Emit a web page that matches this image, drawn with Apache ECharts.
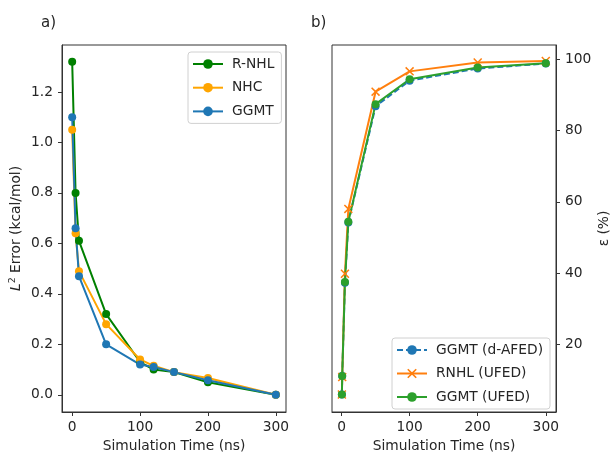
<!DOCTYPE html>
<html>
<head>
<meta charset="utf-8">
<script src="https://cdn.jsdelivr.net/npm/echarts@6/dist/echarts.min.js"></script>
<style>
  html, body { margin: 0; padding: 0; background: #fff; }
  #chart { width: 612px; height: 453px; }
</style>
</head>
<body>
<div id="chart"></div>
<script>
// Panel a): L2 error against simulation time
const timesA = [0, 5, 10, 50, 100, 120, 150, 200, 300];
const errRNHL = [1.32, 0.80, 0.61, 0.32, 0.13, 0.10, 0.09, 0.05, 0.0];
const errNHC  = [1.05, 0.64, 0.49, 0.28, 0.14, 0.115, 0.09, 0.067, 0.0];
const errGGMT = [1.10, 0.66, 0.47, 0.20, 0.12, 0.11, 0.09, 0.058, 0.0];
const ticksAx = [0, 100, 200, 300];
const ticksAy = [0.0, 0.2, 0.4, 0.6, 0.8, 1.0, 1.2];

// Panel b): epsilon (%) against simulation time
const timesB = [0.5, 1, 5, 10, 50, 100, 200, 300];
const epsGGMTdAFED = [5.9, 11.1, 37.3, 54.2, 86.8, 94.0, 97.4, 98.8];
const epsRNHLUFED  = [5.9, 10.8, 39.8, 58.0, 90.9, 96.6, 99.1, 99.5];
const epsGGMTUFED  = [5.9, 11.1, 37.5, 54.4, 87.4, 94.4, 97.7, 98.9];
const ticksBx = [0, 100, 200, 300];
const ticksBy = [20, 40, 60, 80, 100];

const FONT = 'DejaVu Sans';
const FS = 13.8;
const TXT = '#262626';
const pairs = (xs, ys) => xs.map((x, i) => [x, ys[i]]);
const CROSS = 'path://M0,1.2L1.2,0L5,3.8L8.8,0L10,1.2L6.2,5L10,8.8L8.8,10L5,6.2L1.2,10L0,8.8L3.8,5Z';

function xAxisCfg(gridIndex, ticks, min, max) {
  return {
    type: 'value', gridIndex, min, max,
    name: 'Simulation Time (ns)', nameLocation: 'middle', nameGap: 27,
    nameTextStyle: { fontFamily: FONT, fontSize: FS, color: TXT },
    axisLine: { show: true, onZero: false, lineStyle: { color: '#333', width: 1 } },
    axisTick: { show: true, length: 4, customValues: ticks, lineStyle: { color: '#333' } },
    axisLabel: { customValues: ticks, margin: 8, fontFamily: FONT, fontSize: FS, color: TXT },
    splitLine: { show: false }
  };
}

function lineSeries(name, data, color, xi, yi, extra) {
  return Object.assign({
    name, type: 'line', xAxisIndex: xi, yAxisIndex: yi, data,
    symbol: 'circle', symbolSize: 8, showSymbol: true,
    lineStyle: { color, width: 2 },
    itemStyle: { color },
    emphasis: { disabled: true },
    animation: false
  }, extra || {});
}

const gridBase = {
  top: 45, width: 224, height: 367, show: true, borderColor: '#333', borderWidth: 1,
  backgroundColor: 'transparent', containLabel: false, outerBoundsMode: 'none'
};

const chart = echarts.init(document.getElementById('chart'), null, { renderer: 'canvas' });
chart.setOption({
  animation: false,
  title: [
    { text: 'a)', left: 36, top: 11, textStyle: { fontFamily: FONT, fontSize: 15, fontWeight: 'normal', color: TXT } },
    { text: 'b)', left: 306, top: 11, textStyle: { fontFamily: FONT, fontSize: 15, fontWeight: 'normal', color: TXT } }
  ],
  grid: [
    Object.assign({ left: 62 }, gridBase),
    Object.assign({ left: 332 }, gridBase)
  ],
  xAxis: [
    xAxisCfg(0, ticksAx, -15, 315),
    xAxisCfg(1, ticksBx, -14, 315)
  ],
  yAxis: [
    {
      type: 'value', gridIndex: 0, min: -0.068, max: 1.386, position: 'left',
      name: '{i|L}{s|2} Error (kcal/mol)', nameLocation: 'middle', nameGap: 38, nameRotate: 90,
      nameTextStyle: {
        fontFamily: FONT, fontSize: FS, color: TXT,
        rich: {
          i: { fontFamily: FONT, fontStyle: 'italic', fontSize: FS, color: TXT },
          s: { fontFamily: FONT, fontSize: 9.5, color: TXT, verticalAlign: 'top', padding: [0, 0, 6, 0] }
        }
      },
      axisLine: { show: true, onZero: false, lineStyle: { color: '#333', width: 1 } },
      axisTick: { show: true, length: 4, customValues: ticksAy, lineStyle: { color: '#333' } },
      axisLabel: { customValues: ticksAy, margin: 9, fontFamily: FONT, fontSize: FS, color: TXT,
                   formatter: v => v.toFixed(1) },
      splitLine: { show: false }
    },
    {
      type: 'value', gridIndex: 1, min: 1, max: 104, position: 'right',
      name: 'ε (%)', nameLocation: 'middle', nameGap: 41, nameRotate: 90,
      nameTextStyle: { fontFamily: FONT, fontSize: FS, color: TXT },
      axisLine: { show: true, onZero: false, lineStyle: { color: '#333', width: 1 } },
      axisTick: { show: true, length: 4, customValues: ticksBy, lineStyle: { color: '#333' } },
      axisLabel: { customValues: ticksBy, margin: 9, fontFamily: FONT, fontSize: FS, color: TXT },
      splitLine: { show: false }
    }
  ],
  legend: [
    {
      data: ['R-NHL', 'NHC', 'GGMT'],
      orient: 'vertical', left: 188, top: 52,
      itemWidth: 30, itemHeight: 12, itemGap: 9.7,
      padding: [5, 7, 5, 4],
      borderColor: '#d0d0d0', borderWidth: 1, borderRadius: 3, backgroundColor: 'rgba(255,255,255,0.8)',
      textStyle: { fontFamily: FONT, fontSize: FS, color: TXT, padding: [0, 0, 0, 4] }
    },
    {
      data: ['GGMT (d-AFED)', 'RNHL (UFED)', 'GGMT (UFED)'],
      orient: 'vertical', left: 392, top: 338,
      itemWidth: 30, itemHeight: 12, itemGap: 9.5,
      padding: [5, 7, 5, 4],
      borderColor: '#d0d0d0', borderWidth: 1, borderRadius: 3, backgroundColor: 'rgba(255,255,255,0.8)',
      textStyle: { fontFamily: FONT, fontSize: FS, color: TXT, padding: [0, 0, 0, 4] }
    }
  ],
  series: [
    lineSeries('R-NHL', pairs(timesA, errRNHL), '#008000', 0, 0),
    lineSeries('NHC', pairs(timesA, errNHC), '#ffa500', 0, 0),
    lineSeries('GGMT', pairs(timesA, errGGMT), '#1f77b4', 0, 0),
    lineSeries('GGMT (d-AFED)', pairs(timesB, epsGGMTdAFED), '#1f77b4', 1, 1,
      { lineStyle: { color: '#1f77b4', width: 2, type: [6, 3] } }),
    lineSeries('RNHL (UFED)', pairs(timesB, epsRNHLUFED), '#ff7f0e', 1, 1,
      { symbol: CROSS, symbolSize: 9 }),
    lineSeries('GGMT (UFED)', pairs(timesB, epsGGMTUFED), '#2ca02c', 1, 1)
  ]
});
</script>
</body>
</html>
